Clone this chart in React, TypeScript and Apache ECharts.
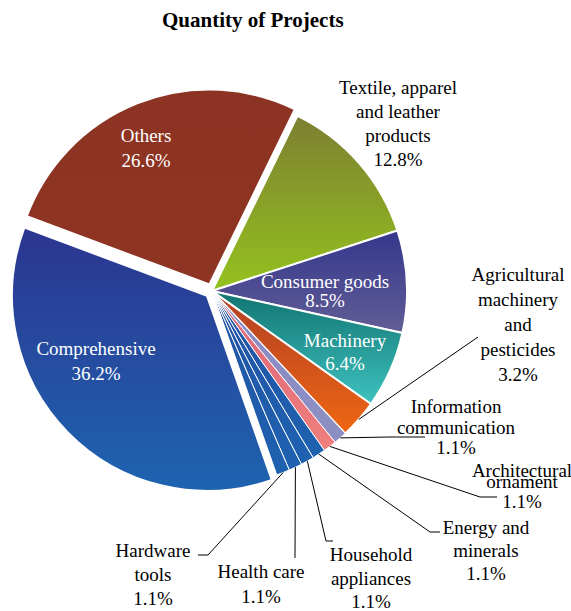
import React, { useEffect, useRef } from "react";
import * as echarts from "echarts";

const TITLE = "Quantity of Projects";

const categories = [
  "Textile, apparel\nand leather\nproducts",
  "Consumer goods",
  "Machinery",
  "Agricultural\nmachinery\nand\npesticides",
  "Information\ncommunication",
  "Architectural\nornament",
  "Energy and\nminerals",
  "Household\nappliances",
  "Health care",
  "Hardware\ntools",
  "Comprehensive",
  "Others",
];

const shares = [12.8, 8.5, 6.4, 3.2, 1.1, 1.1, 1.1, 1.1, 1.1, 1.1, 36.2, 26.6];

const exploded = [false, false, false, false, false, false, false, false, false, false, true, true];

// styles (gradient top / bottom colours)
const colorTop = ["#7d7f31", "#34378c", "#117471", "#b03f25", "#8b8cc4", "#d9637a", "#2252a4", "#2252a4", "#2252a4", "#2252a4", "#2c3590", "#8c3323"];
const colorBottom = ["#94c21e", "#625d96", "#3ec2bf", "#ef6612", "#8d8ec2", "#f07f7c", "#1e62b0", "#1e62b0", "#1e62b0", "#1e62b0", "#1e64b0", "#8e3422"];

const insideLabel = [false, true, true, false, false, false, false, false, false, false, true, true];

// label layout: centre of the text block, line height, label-line bend points
const labelPos: { x: number; y: number; lh: number; line?: number[][] }[] = [
  { x: 398, y: 123, lh: 24 },
  { x: 325, y: 291, lh: 19 },
  { x: 345, y: 351.5, lh: 23 },
  { x: 518, y: 324, lh: 25, line: [[478, 337]] },
  { x: 456, y: 427, lh: 20.5, line: [[390, 437], [425, 437]] },
  { x: 522, y: 490.5, lh: 0, line: [[480, 497], [497, 497]] },
  { x: 486, y: 550, lh: 23, line: [[430, 532], [440, 532]] },
  { x: 371, y: 578, lh: 23.5, line: [[326, 541], [333, 541]] },
  { x: 261, y: 584, lh: 25, line: [[295, 558]] },
  { x: 153, y: 574, lh: 24, line: [[208, 555], [198, 555]] },
  { x: 96, y: 360.5, lh: 25 },
  { x: 146, y: 147.5, lh: 25 },
];

const FONT = "'Liberation Serif', 'Times New Roman', serif";
const FS = 19;

export default function App() {
  const ref = useRef<HTMLDivElement>(null);
  useEffect(() => {
    if (!ref.current) return;
    const chart = echarts.init(ref.current, null, { renderer: "svg" });

    const sliceData = categories.map((name, i) => ({
      name,
      value: shares[i],
      selected: exploded[i],
      itemStyle: {
        borderColor: "#ffffff",
        borderWidth: shares[i] < 2 ? 1 : 2,
        color: new echarts.graphic.LinearGradient(0, 0, 0, 1, [
          { offset: 0, color: colorTop[i] },
          { offset: 1, color: colorBottom[i] },
        ]),
      },
    }));

    const labelData = categories.map((name, i) => {
      const isArch = i === 5;
      const label: any = {
        color: insideLabel[i] ? "#ffffff" : "#000000",
        lineHeight: labelPos[i].lh || 20,
        formatter: isArch
          ? "{a|Architectural}\n{b|ornament}\n{c|" + shares[i].toFixed(1) + "%}"
          : name + "\n" + shares[i].toFixed(1) + "%",
      };
      if (isArch) {
        const tok = { fontSize: FS, fontFamily: FONT, color: "#000" };
        label.rich = {
          a: { ...tok, lineHeight: 11 },
          b: { ...tok, lineHeight: 11 },
          c: { ...tok, lineHeight: 29 },
        };
      }
      return {
        name,
        value: shares[i],
        label,
        labelLine: { show: !!labelPos[i].line },
      };
    });

    const common = {
      type: "pie",
      center: [212, 291],
      radius: 195,
      startAngle: 64,
      clockwise: true,
      avoidLabelOverlap: false,
      emphasis: { disabled: true },
    };

    chart.setOption({
      animation: false,
      backgroundColor: "#ffffff",
      title: {
        text: TITLE,
        left: 162,
        top: 9,
        padding: 0,
        textStyle: { fontFamily: FONT, fontSize: 21, fontWeight: "bold", color: "#000" },
      },
      series: [
        {
          ...common,
          name: "slices",
          selectedMode: "multiple",
          selectedOffset: 7,
          label: { show: false },
          labelLine: { show: false },
          data: sliceData,
        },
        {
          ...common,
          name: "labels",
          z: 5,
          silent: true,
          selectedMode: false,
          itemStyle: { color: "rgba(0,0,0,0)", borderWidth: 0 },
          label: {
            show: true,
            position: "outside",
            fontFamily: FONT,
            fontSize: FS,
            align: "center",
          },
          labelLine: {
            show: true,
            lineStyle: { color: "#000", width: 1 },
          },
          labelLayout: (params: any) => {
            const L = labelPos[params.dataIndex];
            const res: any = { x: L.x, y: L.y, align: "center", verticalAlign: "middle" };
            if (L.line) {
              const pts = params.labelLinePoints;
              const start = pts && pts[0] ? [pts[0][0], pts[0][1]] : L.line[0];
              res.labelLinePoints = [start, ...L.line];
            }
            return res;
          },
          data: labelData,
        },
      ],
    });
    return () => chart.dispose();
  }, []);
  return (
    <div
      ref={ref}
      style={{ position: "absolute", left: 0, top: 0, width: 571, height: 611 }}
    />
  );
}
